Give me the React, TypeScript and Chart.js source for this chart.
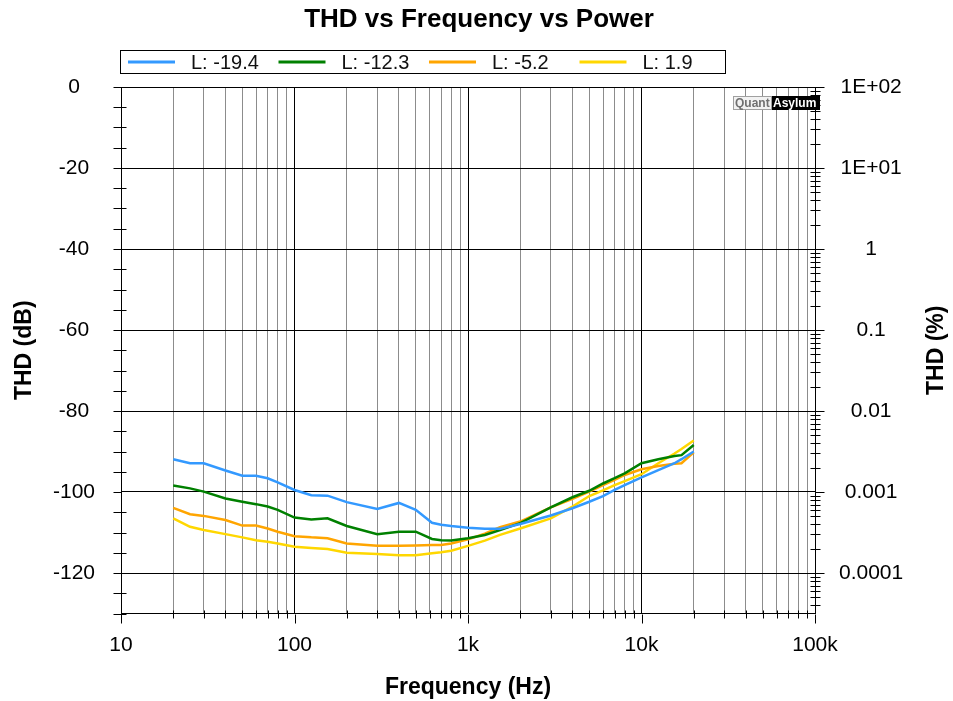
import React, { useEffect, useRef } from "react";
import { Chart, registerables } from "chart.js";

Chart.register(...registerables);

// ---------- data ----------
const FREQ_HZ = [20, 25, 30, 40, 50, 60, 70, 80, 100, 125, 155, 200, 300, 400, 500, 620, 700, 800, 1000, 1250, 1530, 2000, 3000, 4000, 5000, 6000, 7000, 8000, 10000, 12500, 15500, 17000, 20000];

const THD_L_M19_4 = [-91.9, -92.9, -92.9, -94.7, -96.0, -96.0, -96.6, -97.6, -99.5, -100.8, -100.9, -102.5, -104.2, -102.7, -104.4, -107.6, -108.1, -108.4, -108.8, -109.1, -109.1, -107.9, -105.8, -104.0, -102.4, -101.0, -99.5, -98.3, -96.4, -94.6, -92.9, -91.9, -90.0];
const THD_L_M12_3 = [-98.4, -99.1, -99.9, -101.6, -102.4, -103.0, -103.6, -104.4, -106.3, -106.8, -106.5, -108.4, -110.4, -109.8, -109.8, -111.6, -111.9, -112.0, -111.4, -110.6, -109.4, -107.7, -103.8, -101.3, -99.7, -97.9, -96.6, -95.4, -92.9, -91.9, -91.1, -90.9, -88.4];
const THD_L_M5_2 = [-103.9, -105.5, -105.9, -106.9, -108.3, -108.3, -109.0, -109.8, -110.9, -111.2, -111.4, -112.7, -113.3, -113.3, -113.2, -113.1, -113.1, -112.7, -111.7, -110.3, -108.7, -107.3, -103.8, -101.7, -99.9, -98.3, -97.0, -95.8, -94.4, -93.6, -93.0, -92.9, -90.2];
const THD_L_P1_9 = [-106.5, -108.6, -109.4, -110.4, -111.2, -111.9, -112.3, -112.7, -113.5, -113.8, -114.1, -115.0, -115.3, -115.6, -115.6, -115.1, -114.9, -114.5, -113.3, -112.0, -110.6, -109.0, -106.5, -103.6, -101.0, -99.6, -98.3, -97.3, -95.6, -92.9, -90.5, -89.4, -87.3];

const SERIES_VALUES = [THD_L_M19_4, THD_L_M12_3, THD_L_M5_2, THD_L_P1_9];
const SERIES_LABELS = ["L: -19.4", "L: -12.3", "L: -5.2", "L: 1.9"];
const SERIES_COLORS = ["#3399ff", "#008000", "#ffa500", "#ffd700"];

const TITLE = "THD vs Frequency vs Power";
const X_TITLE = "Frequency (Hz)";
const Y_TITLE = "THD (dB)";
const Y2_TITLE = "THD (%)";

const X_MIN = 10;
const X_MAX = 100000;
const X_DECADE_VALUES = [10, 100, 1000, 10000, 100000];
const X_DECADE_LABELS = ["10", "100", "1k", "10k", "100k"];

const DB_MIN = -130;
const DB_MAX = 0;
const DB_STEP = 5;
const DB_LABEL_STEP = 20;

const PCT_DECADE_VALUES = [0.0001, 0.001, 0.01, 0.1, 1, 10, 100];
const PCT_DECADE_LABELS = ["0.0001", "0.001", "0.01", "0.1", "1", "1E+01", "1E+02"];
const PCT_MIN = 100 * Math.pow(10, DB_MIN / 20);
const PCT_MAX = 100 * Math.pow(10, DB_MAX / 20);

const LOG_MULTIPLIERS = [1, 2, 3, 4, 5, 6, 7, 8, 9];

const FONT = '"Liberation Sans", Arial, sans-serif';

// ---------- helpers ----------
function logTicks(min: number, max: number) {
  const out: number[] = [];
  const d0 = Math.floor(Math.log10(min));
  const d1 = Math.ceil(Math.log10(max));
  for (let d = d0; d <= d1; d++) {
    for (const m of LOG_MULTIPLIERS) {
      const v = Number((m * Math.pow(10, d)).toPrecision(8));
      if (v >= min * (1 - 1e-9) && v <= max * (1 + 1e-9)) out.push(v);
    }
  }
  return out;
}
function isDecade(v: number) {
  const l = Math.log10(v);
  return Math.abs(l - Math.round(l)) < 1e-7;
}
function labelFor(values: number[], labels: string[], v: number) {
  for (let i = 0; i < values.length; i++) {
    if (Math.abs(values[i] - v) / values[i] < 1e-6) return labels[i];
  }
  return "";
}
const al = (p: number) => Math.round(p) + 0.5;

const decorPlugin = {
  id: "decor",
  afterDraw(chart: any) {
    const ctx = chart.ctx as CanvasRenderingContext2D;
    const { left, right, top, bottom } = chart.chartArea;
    const xS = chart.scales.x;
    const yS = chart.scales.y;
    const y2S = chart.scales.y2;
    const L = al(left);
    const R = al(right);
    const B = al(bottom);
    ctx.save();
    ctx.strokeStyle = "#000";
    ctx.lineWidth = 1;
    ctx.beginPath();
    // left axis ticks
    yS.ticks.forEach((t: any) => {
      const p = al(yS.getPixelForValue(t.value));
      const major = Math.abs(t.value % DB_LABEL_STEP) < 1e-9;
      ctx.moveTo(L - 8, p);
      ctx.lineTo(major ? L : L + 5, p);
    });
    // right axis ticks
    y2S.ticks.forEach((t: any) => {
      const p = al(y2S.getPixelForValue(t.value));
      if (isDecade(t.value)) {
        ctx.moveTo(R, p);
        ctx.lineTo(R + 9, p);
      } else {
        ctx.moveTo(R - 5, p);
        ctx.lineTo(R + 5, p);
      }
    });
    // x axis ticks
    xS.ticks.forEach((t: any) => {
      const p = al(xS.getPixelForValue(t.value));
      if (isDecade(t.value)) {
        ctx.moveTo(p, B);
        ctx.lineTo(p, B + 9);
      } else {
        ctx.moveTo(p, B - 4);
        ctx.lineTo(p, B + 4);
      }
    });
    ctx.stroke();

    // title
    ctx.fillStyle = "#000";
    ctx.font = `bold 26px ${FONT}`;
    ctx.textAlign = "center";
    ctx.textBaseline = "alphabetic";
    ctx.fillText(TITLE, 479, 27);

    // legend box
    const lx = 120, ly = 50, lw = 605, lh = 23;
    ctx.strokeStyle = "#000";
    ctx.lineWidth = 1;
    ctx.strokeRect(lx + 0.5, ly + 0.5, lw, lh);
    ctx.font = `20px ${FONT}`;
    ctx.textAlign = "left";
    ctx.textBaseline = "middle";
    chart.data.datasets.forEach((ds: any, i: number) => {
      const sx = lx + 8 + i * 150.5;
      const cy = ly + 12;
      ctx.strokeStyle = ds.borderColor;
      ctx.lineWidth = 3;
      ctx.beginPath();
      ctx.moveTo(sx, cy);
      ctx.lineTo(sx + 47, cy);
      ctx.stroke();
      ctx.fillStyle = "#111";
      ctx.fillText(ds.label, sx + 63, cy + 1);
    });

    // right axis title (rotated like the left one)
    ctx.save();
    ctx.translate(937, (top + bottom) / 2);
    ctx.rotate(-Math.PI / 2);
    ctx.font = `bold 23px ${FONT}`;
    ctx.textAlign = "center";
    ctx.textBaseline = "middle";
    ctx.fillStyle = "#000";
    ctx.fillText(Y2_TITLE, 0, 0);
    ctx.restore();

    // watermark
    const wy = top + 9;
    const qx = right - 82;
    ctx.lineWidth = 1;
    ctx.fillStyle = "#f2f2f2";
    ctx.fillRect(qx, wy, 39, 14);
    ctx.strokeStyle = "#a0a0a0";
    ctx.strokeRect(qx + 0.5, wy + 0.5, 38, 13);
    ctx.fillStyle = "#000";
    ctx.fillRect(qx + 39, wy, 48, 14);
    ctx.font = `bold 12px ${FONT}`;
    ctx.textBaseline = "middle";
    ctx.textAlign = "left";
    ctx.fillStyle = "#707070";
    ctx.fillText("Quant", qx + 2, wy + 7.5);
    ctx.save();
    ctx.beginPath();
    ctx.rect(qx + 39, wy, 48, 14);
    ctx.clip();
    ctx.fillStyle = "#fff";
    ctx.fillText("Asylum", qx + 40, wy + 7.5);
    ctx.restore();

    ctx.restore();
  },
};

export default function App() {
  const ref = useRef<HTMLCanvasElement | null>(null);

  useEffect(() => {
    if (!ref.current) return;
    const xTickVals = logTicks(X_MIN, X_MAX);
    const pctTickVals = logTicks(PCT_MIN, PCT_MAX);

    const chart = new Chart(ref.current, {
      type: "line",
      data: {
        datasets: SERIES_VALUES.map((vals, i) => ({
          label: SERIES_LABELS[i],
          data: FREQ_HZ.map((f, j) => ({ x: f, y: vals[j] })),
          borderColor: SERIES_COLORS[i],
          backgroundColor: SERIES_COLORS[i],
          borderWidth: 2.5,
          pointRadius: 0,
          tension: 0,
          yAxisID: "y",
          xAxisID: "x",
        })),
      },
      options: {
        animation: false,
        responsive: false,
        devicePixelRatio: 1,
        layout: { padding: { top: 87, left: 0, right: 0, bottom: 0 } },
        plugins: {
          legend: { display: false },
          title: { display: false },
          tooltip: { enabled: false },
        },
        scales: {
          x: {
            type: "logarithmic",
            position: "bottom",
            min: X_MIN,
            max: X_MAX,
            afterBuildTicks: (s: any) => {
              s.ticks = xTickVals.map((v) => ({ value: v, major: isDecade(v) }));
            },
            afterFit: (s: any) => {
              s.height = 701 - 613.5;
            },
            ticks: {
              autoSkip: false,
              maxRotation: 0,
              minRotation: 0,
              padding: 19,
              color: "#000",
              font: { family: FONT, size: 21 },
              callback: (v: any) => labelFor(X_DECADE_VALUES, X_DECADE_LABELS, Number(v)),
            },
            grid: {
              drawTicks: false,
              color: (c: any) => (c.tick && isDecade(c.tick.value) ? "#000" : "#8c8c8c"),
              lineWidth: 1,
            },
            border: { display: true, color: "#000", width: 1 },
            title: {
              display: true,
              text: X_TITLE,
              color: "#000",
              font: { family: FONT, size: 23, weight: "bold" },
              padding: { top: 4, bottom: 0 },
            },
          },
          y: {
            type: "linear",
            position: "left",
            min: DB_MIN,
            max: DB_MAX,
            afterFit: (s: any) => {
              s.width = 121;
            },
            ticks: {
              stepSize: DB_STEP,
              autoSkip: false,
              padding: 26,
              crossAlign: "center",
              color: "#000",
              font: { family: FONT, size: 21 },
              callback: (v: any) => (Math.abs(Number(v) % DB_LABEL_STEP) < 1e-9 ? String(Math.round(Number(v))) : ""),
            },
            grid: {
              drawTicks: false,
              color: (c: any) => (c.tick && Math.abs(c.tick.value % DB_LABEL_STEP) < 1e-9 ? "#000" : "rgba(0,0,0,0)"),
              lineWidth: 1,
            },
            border: { display: true, color: "#000", width: 1 },
            title: {
              display: true,
              text: Y_TITLE,
              color: "#000",
              font: { family: FONT, size: 23, weight: "bold" },
              padding: { top: 11, bottom: 0 },
            },
          },
          y2: {
            type: "logarithmic",
            position: "right",
            min: PCT_MIN,
            max: PCT_MAX,
            afterBuildTicks: (s: any) => {
              s.ticks = pctTickVals.map((v) => ({ value: v, major: isDecade(v) }));
            },
            afterFit: (s: any) => {
              s.width = 953 - 815;
            },
            ticks: {
              autoSkip: false,
              padding: 24,
              crossAlign: "center",
              color: "#000",
              font: { family: FONT, size: 21 },
              callback: (v: any) => labelFor(PCT_DECADE_VALUES, PCT_DECADE_LABELS, Number(v)),
            },
            grid: { drawOnChartArea: false, drawTicks: false },
            border: { display: true, color: "#000", width: 1 },
            title: { display: false },
          },
        },
      },
      plugins: [decorPlugin],
    } as any);

    return () => chart.destroy();
  }, []);

  return (
    <div style={{ position: "fixed", left: 0, top: 0, width: 953, height: 701, background: "#fff" }}>
      <canvas ref={ref} width={953} height={701} style={{ width: 953, height: 701, display: "block" }} />
    </div>
  );
}
